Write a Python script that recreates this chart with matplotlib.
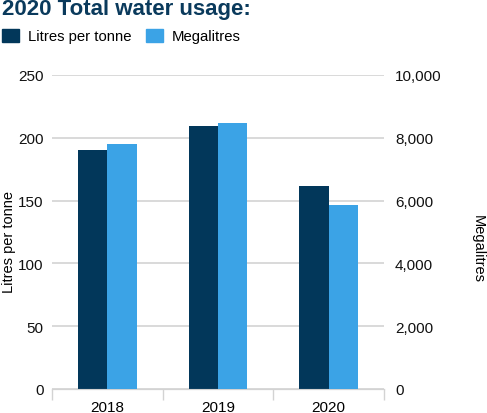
import numpy as np
import matplotlib.pyplot as plt
from matplotlib.patches import Patch
from matplotlib.ticker import FuncFormatter

years = ["2018", "2019", "2020"]
litres_per_tonne = [190, 209, 162]
megalitres = [7800, 8470, 5860]

dark = "#02375a"
light = "#3ba3e6"
grid_col = "#d3d3d3"

plt.rcParams["font.family"] = ["Liberation Sans", "DejaVu Sans"]

fig = plt.figure(figsize=(4.87, 4.14), dpi=100)
ax = fig.add_axes([52 / 487, 24 / 414, 332 / 487, 314 / 414])
ax2 = ax.twinx()

x = np.arange(len(years))
w = 0.266
ax.bar(x - w / 2, litres_per_tonne, width=w, color=dark, zorder=3)
ax2.bar(x + w / 2, megalitres, width=w, color=light, zorder=3)

ax.set_xlim(-0.5, 2.5)
ax.set_ylim(0, 250)
ax2.set_ylim(0, 10000)
ax.set_yticks(range(0, 251, 50))
ax2.set_yticks(range(0, 10001, 2000))
ax2.yaxis.set_major_formatter(FuncFormatter(lambda v, p: f"{int(v):,}"))

ax.grid(axis="y", color=grid_col, linewidth=1.2, zorder=0)
ax.set_axisbelow(True)

for a in (ax, ax2):
    for s in ("left", "right", "top"):
        a.spines[s].set_visible(False)
    a.spines["bottom"].set_color(grid_col)
    a.tick_params(axis="y", length=0, labelsize=11, colors="#111111")

ax.tick_params(axis="y", pad=6)
ax2.tick_params(axis="y", pad=8)

ax.set_xticks(x)
ax.set_xticklabels(years)
ax.set_xticks([-0.5, 0.5, 1.5, 2.5], minor=True)
ax.tick_params(axis="x", which="major", length=0, pad=8, labelsize=11)
ax.tick_params(axis="x", which="minor", length=8, color=grid_col, width=1)

ax.set_ylabel("Litres per tonne", fontsize=10.5)
ax.yaxis.set_label_coords(-0.108, 0.47)
ax2.set_ylabel("Megalitres", fontsize=10.5, rotation=-90, va="bottom")
ax2.yaxis.set_label_coords(1.26, 0.45)

fig.text(2 / 487, 1 - 15.5 / 414, "2020 Total water usage:", fontsize=16,
         fontweight="heavy", color="#0a3a5c", va="baseline", ha="left")

handles = [Patch(color=dark, label="Litres per tonne"),
           Patch(color=light, label="Megalitres")]
fig.legend(handles=handles, loc="center left", bbox_to_anchor=(-0.012, 1 - 37 / 414),
           ncol=2, frameon=False, fontsize=10.7, handlelength=1.15, handleheight=0.95,
           handletextpad=0.6, columnspacing=1.0, borderpad=0)

fig.savefig("out.png", dpi=100)
